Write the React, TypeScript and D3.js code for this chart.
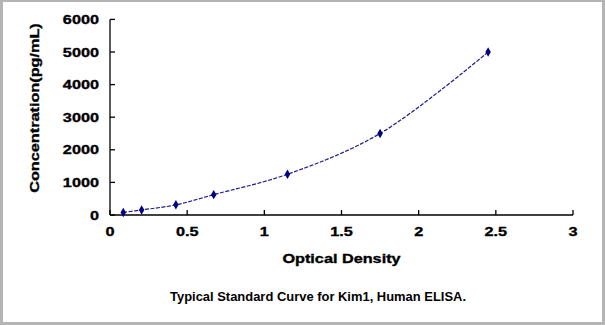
import React from "react";
import * as d3 from "d3";

const opticalDensity = [0.086, 0.205, 0.427, 0.672, 1.15, 1.75, 2.45];
const concentration = [78, 156, 312, 625, 1250, 2500, 5000];
const xTicks = [0, 0.5, 1, 1.5, 2, 2.5, 3];
const yTicks = [0, 1000, 2000, 3000, 4000, 5000, 6000];
const xTitle = "Optical Density";
const yTitle = "Concentration(pg/mL)";
const caption = "Typical Standard Curve for Kim1, Human ELISA.";

const W = 605;
const H = 325;
const FONT = "'Liberation Sans', Arial, sans-serif";
const SX = 1.25;

export default function App() {
  const x = d3.scaleLinear().domain([0, 3]).range([110, 573]);
  const y = d3.scaleLinear().domain([0, 6000]).range([215, 19.4]);
  const pts: [number, number][] = opticalDensity.map((d, i) => [d, concentration[i]]);
  const line = d3
    .line<[number, number]>()
    .x((d) => x(d[0]))
    .y((d) => y(d[1]))
    .curve(d3.curveCatmullRom.alpha(0.5));
  const diamond = d3.symbol().type(d3.symbolDiamond).size(26)();
  const heavy = { stroke: "#000", strokeWidth: 0.35 };

  return (
    <svg
      width={W}
      height={H}
      style={{ position: "absolute", left: 0, top: 0 }}
      fontFamily={FONT}
    >
      <rect x={0} y={0} width={W} height={H} fill="#b4b4b4" />
      <rect x={3} y={2} width={599} height={320} fill="#ffffff" />

      {/* axes */}
      <line x1={x(0)} x2={x(0)} y1={y(6000)} y2={y(0)} stroke="#000" strokeWidth={1.3} />
      <line x1={x(0)} x2={x(3)} y1={y(0)} y2={y(0)} stroke="#000" strokeWidth={1.3} />
      {yTicks.map((t) => (
        <g key={"y" + t}>
          <line x1={x(0)} x2={x(0) + 5} y1={y(t)} y2={y(t)} stroke="#000" strokeWidth={1.3} />
          <text
            transform={`translate(${x(0) - 11},${y(t) + 4.5}) scale(${SX},1)`}
            textAnchor="end"
            fontSize={13}
            fontWeight="bold"
            fill="#000"
            {...heavy}
          >
            {t}
          </text>
        </g>
      ))}
      {xTicks.map((t) => (
        <g key={"x" + t}>
          <line x1={x(t)} x2={x(t)} y1={y(0)} y2={y(0) - 5} stroke="#000" strokeWidth={1.3} />
          <text
            transform={`translate(${x(t)},${235.5}) scale(${SX},1)`}
            textAnchor="middle"
            fontSize={13}
            fontWeight="bold"
            fill="#000"
            {...heavy}
          >
            {t}
          </text>
        </g>
      ))}

      <text
        transform={`translate(${(x(0) + x(3)) / 2},${262.5}) scale(${SX},1)`}
        textAnchor="middle"
        fontSize={13}
        fontWeight="bold"
        fill="#000"
        {...heavy}
      >
        {xTitle}
      </text>
      <text
        transform={`translate(39,${108}) rotate(-90) scale(${SX},1)`}
        textAnchor="middle"
        fontSize={13}
        fontWeight="bold"
        fill="#000"
        {...heavy}
      >
        {yTitle}
      </text>

      <path
        d={line(pts) || ""}
        fill="none"
        stroke="#1c1c8a"
        strokeWidth={1.2}
        strokeDasharray="4,1.5"
      />
      {pts.map((p, i) => (
        <path
          key={i}
          d={diamond || ""}
          transform={`translate(${x(p[0])},${y(p[1])})`}
          fill="#000080"
        />
      ))}

      <text
        x={318}
        y={301}
        textAnchor="middle"
        fontSize={12.5}
        fontWeight="bold"
        fill="#000"
        textLength={296}
        lengthAdjust="spacingAndGlyphs"
      >
        {caption}
      </text>
    </svg>
  );
}
